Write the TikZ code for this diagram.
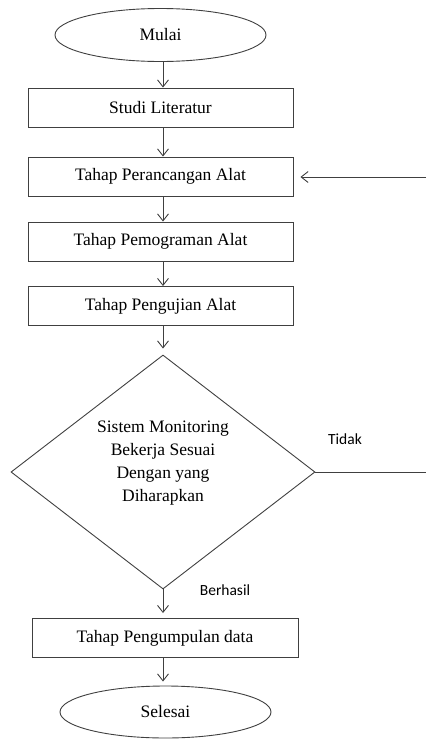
\documentclass[tikz,border=0pt]{standalone}
\usepackage{fontspec}
\setmainfont{Liberation Serif}
\newfontfamily\labelfont{Carlito}
\usetikzlibrary{shapes.geometric,arrows.meta}
\definecolor{ln}{HTML}{404040}
\begin{document}
\begin{tikzpicture}[x=1pt,y=-1pt,
  every node/.style={text=black},
  stepbox/.style={draw=ln,line width=0.9pt,rectangle,minimum width=265pt,minimum height=39pt,inner sep=0pt,font=\fontsize{17.5}{21}\selectfont},
  term/.style={draw=ln,line width=0.9pt,ellipse,minimum width=211pt,minimum height=53pt,inner sep=0pt,font=\fontsize{17.5}{21}\selectfont},
  arr/.style={draw=ln,line width=0.9pt,-{Straight Barb[length=7pt,width=11pt]}},
  lbl/.style={font=\labelfont\fontsize{15.5}{18}\selectfont}]
\useasboundingbox (0,0) rectangle (426,739);
\node[term] (mulai) at (160.5,35) {Mulai};
\node[stepbox] (studi) at (160.5,107.5) {Studi Literatur};
\node[stepbox] (rancang) at (160.5,176.5) {Tahap Perancangan Alat};
\node[stepbox] (program) at (160.5,241.5) {Tahap Pemograman Alat};
\node[stepbox] (uji) at (160.5,306) {Tahap Pengujian Alat};
\node[draw=ln,line width=0.9pt,diamond,minimum width=304pt,minimum height=234pt,inner sep=0pt] (dec) at (163,472) {};
\node[align=center,font=\fontsize{17.5}{23}\selectfont] (dectext) at (163,463) {Sistem Monitoring\\Bekerja Sesuai\\Dengan yang\\Diharapkan};
\node[stepbox,minimum width=266pt] (kumpul) at (165,638) {Tahap Pengumpulan data};
\node[term,minimum height=52pt] (selesai) at (165.5,712) {Selesai};
\node[lbl] (tidak) at (345,439) {Tidak};
\node[lbl] (berhasil) at (225,590) {Berhasil};
\coordinate (r1) at (426,472);
\coordinate (r2) at (426,177);
\draw[arr] (mulai.south -| dec.north) -- (studi.north -| dec.north);
\draw[arr] (studi.south -| dec.north) -- (rancang.north -| dec.north);
\draw[arr] (rancang.south -| dec.north) -- (program.north -| dec.north);
\draw[arr] (program.south -| dec.north) -- (uji.north -| dec.north);
\draw[arr,shorten >=6pt] (uji.south -| dec.north) -- (dec.north);
\draw[arr,shorten >=5pt] (dec.south) -- (kumpul.north -| dec.south);
\draw[arr,shorten >=4pt] (kumpul.south -| dec.south) -- (selesai.north -| dec.south);
\draw[draw=ln,line width=0.9pt] (dec.east) -- (r1);
\draw[arr,shorten >=7pt] (r2) -- (rancang.east |- r2);
\end{tikzpicture}
\end{document}
